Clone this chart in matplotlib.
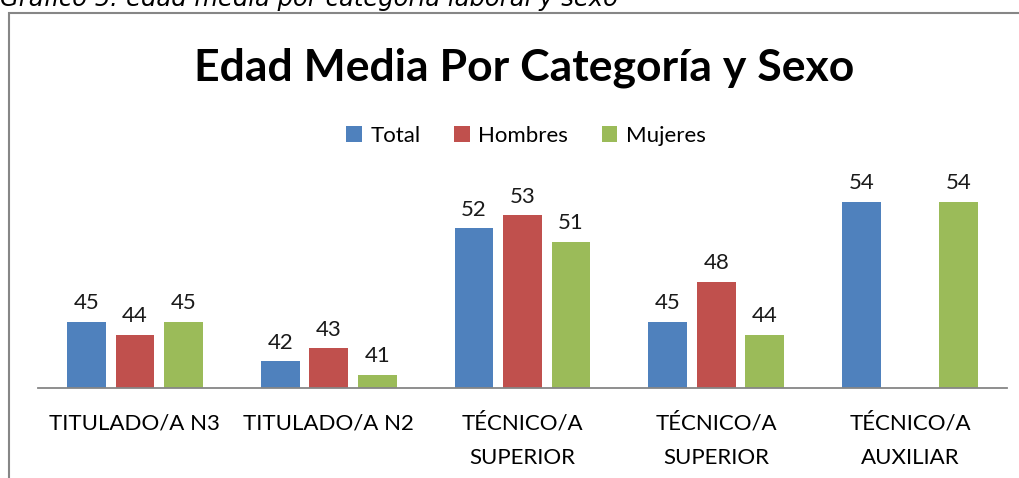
import numpy as np
import matplotlib
matplotlib.use("Agg")
import matplotlib.pyplot as plt
from matplotlib.patches import Rectangle

# datos del grafico
categorias = ["TITULADO/A N3", "TITULADO/A N2", "TÉCNICO/A\nSUPERIOR", "TÉCNICO/A\nSUPERIOR", "TÉCNICO/A\nAUXILIAR"]
total = [45, 42, 52, 45, 54]
hombres = [44, 43, 53, 48, np.nan]
mujeres = [45, 41, 51, 44, 54]
series = ["Total", "Hombres", "Mujeres"]
colores = ["#4F81BD", "#C0504D", "#9BBB59"]

plt.rcParams['font.family'] = ['Lato', 'DejaVu Sans']

fig = plt.figure(figsize=(10.2, 4.78), dpi=100)
ax = fig.add_axes([38/1020, 90/478, 969/1020, 238/478])

x = np.arange(len(categorias))
w = 0.2
for i, (vals, nombre, c) in enumerate(zip([total, hombres, mujeres], series, colores)):
    bars = ax.bar(x + (i - 1) * 0.25, vals, w, color=c, label=nombre, zorder=2)
    etiquetas = ["" if np.isnan(v) else "%d" % v for v in np.array(vals, dtype=float)]
    ax.bar_label(bars, labels=etiquetas, padding=6, fontsize=16, color="#1a1a1a")

ax.set_xlim(-0.5, len(categorias) - 0.5)
ax.set_ylim(40, 40 + 238/13.3)
ax.set_xticks(x)
ax.set_xticklabels(categorias, fontsize=16, multialignment="center", linespacing=1.9)
ax.tick_params(axis="x", length=0, pad=18)
ax.set_yticks([])
for s in ["top", "right", "left"]:
    ax.spines[s].set_visible(False)
ax.spines["bottom"].set_color("#868686")
ax.spines["bottom"].set_linewidth(1.3)

fig.text(524/1020, 1 - 68/478, "Edad Media Por Categoría y Sexo", ha="center", va="center",
         fontsize=32, fontweight="bold", color="#000000")
leg = fig.legend(loc="center", bbox_to_anchor=(526/1020, 1 - 136/478), ncol=3, frameon=False,
                 fontsize=16, handlelength=0.7, handleheight=0.7, handletextpad=0.4, columnspacing=1.5)

fig.text(0, 1 - 6/478, "Gráfico 5: edad media por categoría laboral y sexo", ha="left", va="baseline",
         fontsize=17.5, style="italic", family="DejaVu Sans")

fig.patches.append(Rectangle((9/1020, -0.1), 1.2, 1 - 13/478 + 0.1, transform=fig.transFigure,
                             fill=False, edgecolor="#868686", linewidth=1.5))

fig.savefig("out.png", dpi=100)
